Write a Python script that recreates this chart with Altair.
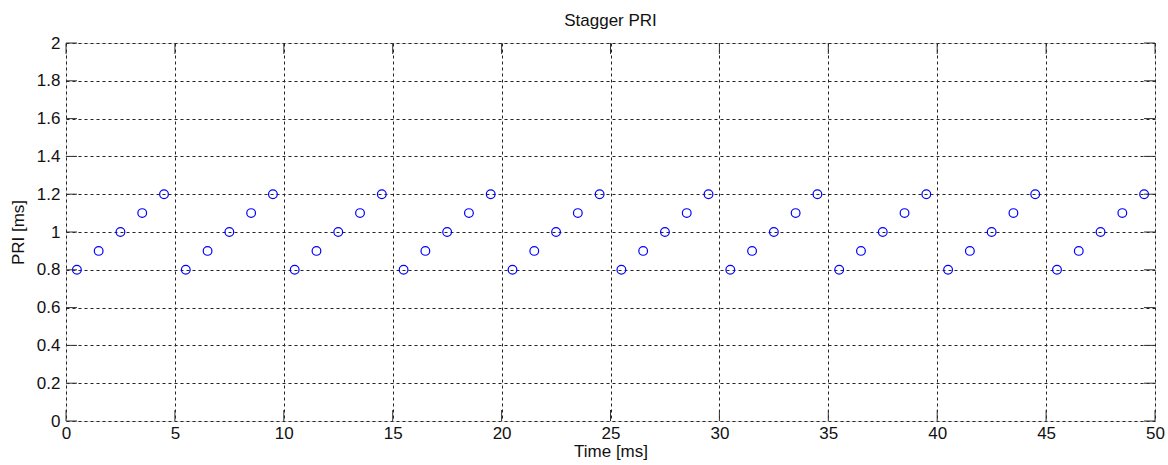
import altair as alt
import pandas as pd

# ---- data ----
time_ms = [0.5, 1.5, 2.5, 3.5, 4.5, 5.5, 6.5, 7.5, 8.5, 9.5,
           10.5, 11.5, 12.5, 13.5, 14.5, 15.5, 16.5, 17.5, 18.5, 19.5,
           20.5, 21.5, 22.5, 23.5, 24.5, 25.5, 26.5, 27.5, 28.5, 29.5,
           30.5, 31.5, 32.5, 33.5, 34.5, 35.5, 36.5, 37.5, 38.5, 39.5,
           40.5, 41.5, 42.5, 43.5, 44.5, 45.5, 46.5, 47.5, 48.5, 49.5]
pri_ms = [0.8, 0.9, 1.0, 1.1, 1.2, 0.8, 0.9, 1.0, 1.1, 1.2,
          0.8, 0.9, 1.0, 1.1, 1.2, 0.8, 0.9, 1.0, 1.1, 1.2,
          0.8, 0.9, 1.0, 1.1, 1.2, 0.8, 0.9, 1.0, 1.1, 1.2,
          0.8, 0.9, 1.0, 1.1, 1.2, 0.8, 0.9, 1.0, 1.1, 1.2,
          0.8, 0.9, 1.0, 1.1, 1.2, 0.8, 0.9, 1.0, 1.1, 1.2]
x_ticks = [0, 5, 10, 15, 20, 25, 30, 35, 40, 45, 50]
y_ticks = [0, 0.2, 0.4, 0.6, 0.8, 1.0, 1.2, 1.4, 1.6, 1.8, 2.0]

W, H = 1089, 378
TICK = 11
FONT = "Liberation Sans"
FS = 17

df = pd.DataFrame({"t": time_ms, "pri": pri_ms})
xt = pd.DataFrame({"t": x_ticks})
yt = pd.DataFrame({"pri": y_ticks})

xscale = alt.Scale(domain=[0, 50], nice=False, zero=False)
yscale = alt.Scale(domain=[0, 2], nice=False, zero=False)

xaxis = alt.Axis(values=x_ticks, format="d", ticks=False, domain=False,
                 grid=True, gridDash=[3, 3], gridColor="#222", gridOpacity=1,
                 labelPadding=4, labelFontSize=FS, labelFont=FONT, labelColor="#111",
                 labelOverlap=False, labelFlush=False,
                 title="Time [ms]", titleFontSize=FS, titleFont=FONT,
                 titleFontWeight="normal", titleColor="#111", titlePadding=2)
yaxis = alt.Axis(values=y_ticks, ticks=False, domain=False,
                 labelExpr="datum.value == 0 ? '0' : datum.value == 1 ? '1' : datum.value == 2 ? '2' : format(datum.value, '.1f')",
                 grid=True, gridDash=[3, 3], gridColor="#222", gridOpacity=1,
                 labelPadding=6, labelFontSize=FS, labelFont=FONT, labelColor="#111",
                 labelOverlap=False, labelFlush=False,
                 title="PRI [ms]", titleFontSize=FS, titleFont=FONT,
                 titleFontWeight="normal", titleColor="#111", titlePadding=9)

X = alt.X("t:Q", scale=xscale, axis=xaxis)
Y = alt.Y("pri:Q", scale=yscale, axis=yaxis)

points = alt.Chart(df).mark_point(shape="circle", filled=False, color="#0000ff",
                                  size=76, strokeWidth=1.2, opacity=1).encode(x=X, y=Y)

tick_color = "#333"
bx = alt.Chart(xt).mark_rule(color=tick_color, strokeWidth=1).encode(
    x=X, y=alt.value(H), y2=alt.value(H - TICK))
tx = alt.Chart(xt).mark_rule(color=tick_color, strokeWidth=1).encode(
    x=X, y=alt.value(0), y2=alt.value(TICK))
ly = alt.Chart(yt).mark_rule(color=tick_color, strokeWidth=1).encode(
    y=Y, x=alt.value(0), x2=alt.value(TICK))
ry = alt.Chart(yt).mark_rule(color=tick_color, strokeWidth=1).encode(
    y=Y, x=alt.value(W), x2=alt.value(W - TICK))

chart = alt.layer(points, bx, tx, ly, ry).properties(
    width=W, height=H,
    title=alt.TitleParams("Stagger PRI", fontSize=FS, font=FONT, fontWeight="normal",
                          color="#111", anchor="middle", offset=4),
    autosize=alt.AutoSizeParams(type="none"),
    padding={"left": 66, "top": 43, "right": 13, "bottom": 44},
).configure_view(stroke="#444", strokeWidth=1.2).configure(background="white")

chart.save("out.html", embed_options={"renderer": "svg", "actions": False})
